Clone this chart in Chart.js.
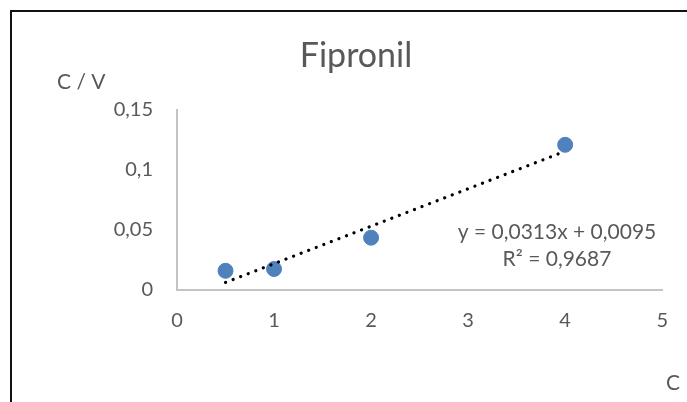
<!DOCTYPE html>
<html>
<head>
<meta charset="utf-8">
<script src="https://cdn.jsdelivr.net/npm/chart.js@4"></script>
<style>
    html, body { margin: 0; padding: 0; background: #fff; }
    #wrap { position: relative; width: 687px; height: 402px; overflow: hidden; }
    #frame { position: absolute; left: 10px; top: 10px; width: 700px; height: 420px;
             border-left: 2px solid #111; border-top: 2px solid #111; }
    canvas { position: absolute; left: 0; top: 0; }
</style>
</head>
<body>
<div id="wrap">
    <div id="frame"></div>
    <canvas id="chart" width="687" height="402"></canvas>
</div>
<script>
const concentrations = [0.5, 1, 2, 4];
const ratios = [0.016, 0.0175, 0.0436, 0.121];
const trendX = [0.5, 4];
const trendY = [0.0063, 0.1156];
const yTickLabels = ["0", "0,05", "0,1", "0,15"];
const xTickLabels = ["0", "1", "2", "3", "4", "5"];
const titleText = "Fipronil";
const yTitle = "C / V";
const xTitle = "C";
const equationLines = ["y = 0,0313x + 0,0095", "R² = 0,9687"];

const font = "Lato, 'Open Sans', sans-serif";
const grey = "#595959";

const textPlugin = {
    id: "texts",
    afterDraw(chart) {
        const ctx = chart.ctx;
        ctx.save();
        ctx.fillStyle = grey;
        ctx.textBaseline = "middle";

        ctx.textAlign = "center";
        ctx.font = `34px ${font}`;
        ctx.fillText(titleText, 356, 56);

        ctx.textAlign = "left";
        ctx.font = `21px ${font}`;
        ctx.fillText(yTitle, 57, 82);
        ctx.fillText(xTitle, 666, 383);

        ctx.textAlign = "center";
        ctx.font = `21px ${font}`;
        ctx.fillText(equationLines[0], 557, 232);
        ctx.fillText(equationLines[1], 557, 259);
        ctx.restore();
    }
};

new Chart(document.getElementById("chart"), {
    type: "scatter",
    data: {
        datasets: [
            {
                label: "data",
                data: concentrations.map((x, i) => ({ x, y: ratios[i] })),
                backgroundColor: "#4f81bd",
                borderColor: "#4f81bd",
                pointRadius: 7.5,
                pointHoverRadius: 7.5,
                order: 2
            },
            {
                label: "trend",
                type: "line",
                data: trendX.map((x, i) => ({ x, y: trendY[i] })),
                borderColor: "#000",
                borderWidth: 3.2,
                borderDash: [0.1, 8],
                borderCapStyle: "round",
                pointRadius: 0,
                fill: false,
                order: 1
            }
        ]
    },
    options: {
        responsive: false,
        animation: false,
        layout: { padding: { top: 110, right: 23, left: 0, bottom: 0 } },
        plugins: { legend: { display: false }, tooltip: { enabled: false }, title: { display: false } },
        scales: {
            x: {
                type: "linear",
                min: 0,
                max: 5,
                ticks: {
                    stepSize: 1,
                    padding: 19,
                    color: grey,
                    font: { family: font, size: 20 },
                    callback: (v, i) => xTickLabels[i]
                },
                grid: { display: false, drawTicks: false },
                border: { display: true, color: "#c4c4c4", width: 2 },
                afterFit: s => { s.height = 112; }
            },
            y: {
                min: 0,
                max: 0.15,
                ticks: {
                    stepSize: 0.05,
                    padding: 24,
                    color: grey,
                    font: { family: font, size: 20 },
                    callback: (v, i) => yTickLabels[i]
                },
                grid: { display: false, drawTicks: false },
                border: { display: true, color: "#c4c4c4", width: 2 },
                afterFit: s => { s.width = 177; }
            }
        }
    },
    plugins: [textPlugin]
});
</script>
</body>
</html>
